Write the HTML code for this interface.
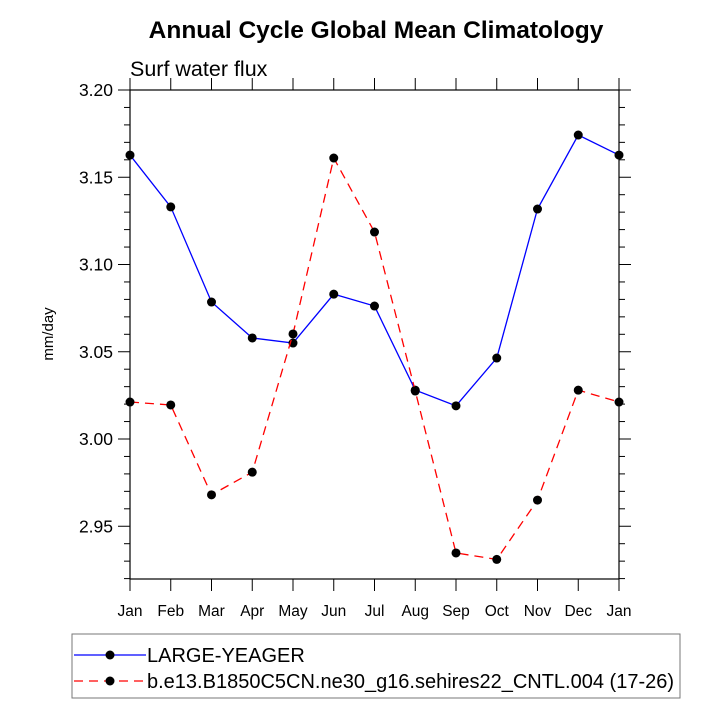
<!DOCTYPE html>
<html><head><meta charset="utf-8"><style>body{margin:0;background:#fff}svg{display:block;font-family:"Liberation Sans",Arial,sans-serif}</style></head>
<body>
<svg id="c" width="720" height="720">
<text x="376" y="38" text-anchor="middle" font-size="24.5" font-weight="bold">Annual Cycle Global Mean Climatology</text>
<text x="130" y="76" font-size="21.5">Surf water flux</text>
<text transform="translate(53,334) rotate(-90)" text-anchor="middle" font-size="15">mm/day</text>
<g id="ax"></g><g id="ser"></g>
<g>
<rect x="72" y="634" width="608" height="64" fill="none" stroke="#777" stroke-width="1"/>
<g><line x1="74" y1="655" x2="146" y2="655" stroke="#00f" stroke-width="1.3"/><circle cx="110" cy="655" r="4.5"/><text x="147" y="662" font-size="20">LARGE-YEAGER</text></g>
<g><line x1="74" y1="681" x2="146" y2="681" stroke="#f00" stroke-width="1.3" stroke-dasharray="9,6"/><circle cx="110" cy="681" r="4.5"/><text x="147" y="688" font-size="20">b.e13.B1850C5CN.ne30_g16.sehires22_CNTL.004 (17-26)</text></g>
</g>
</svg>
<script>
const months=["Jan","Feb","Mar","Apr","May","Jun","Jul","Aug","Sep","Oct","Nov","Dec","Jan"];
const largeYeager=[3.1627,3.133,3.0785,3.0579,3.055,3.083,3.0762,3.028,3.019,3.0464,3.1318,3.1742,3.1627];
const cntl=[3.0212,3.0195,2.968,2.981,3.0602,3.161,3.1186,3.0275,2.9347,2.931,2.965,3.028,3.0212];
const yTicks=["2.95","3.00","3.05","3.10","3.15","3.20"];
const X0=130,X1=619,Y0=90,Y1=579,ymax=3.20,ymin=3.20-(Y1-Y0)/1745;
const xs=i=>X0+(X1-X0)*i/(months.length-1);
const ys=v=>Y0+(ymax-v)/(ymax-ymin)*(Y1-Y0);
const NS="http://www.w3.org/2000/svg";
function mk(p,t,a){const e=document.createElementNS(NS,t);for(const k in a)e.setAttribute(k,a[k]);p.appendChild(e);return e;}
const ax=document.getElementById('ax');
const fr=mk(ax,'rect',{x:X0,y:Y0,width:X1-X0,height:Y1-Y0,fill:'none',stroke:'#000','stroke-width':1.2});


months.forEach((m,i)=>{const x=xs(i);
 mk(ax,'line',{x1:x,y1:Y1,x2:x,y2:Y1+12,stroke:'#000'});
 mk(ax,'line',{x1:x,y1:Y0,x2:x,y2:Y0-12,stroke:'#000'});
 const t=mk(ax,'text',{x:x,y:Y1+37,'text-anchor':'middle','font-size':15.5});t.textContent=m;
 
 });
for(let k=0;;k++){const v=3.20-k*0.01;if(v<ymin-1e-9)break;const y=ys(v);const maj=k%5==0;const L=maj?12:6;
 mk(ax,'line',{x1:X0,y1:y,x2:X0-L,y2:y,stroke:'#000'});
 mk(ax,'line',{x1:X1,y1:y,x2:X1+L,y2:y,stroke:'#000'});}
yTicks.forEach(s=>{const y=ys(parseFloat(s));const t=mk(ax,'text',{x:X0-17,y:y+6,'text-anchor':'end','font-size':17.5});t.textContent=s;
 
 });
const ser=document.getElementById('ser');
function draw(d,col,dash,name){const g=mk(ser,'g',{});
 
 
 const a={points:d.map((v,i)=>xs(i)+','+ys(v)).join(' '),fill:'none',stroke:col,'stroke-width':1.3};if(dash)a['stroke-dasharray']=dash;mk(g,'polyline',a);
 d.forEach((v,i)=>{const c=mk(g,'circle',{cx:xs(i),cy:ys(v),r:4.5});
 
 });}
draw(largeYeager,'#00f',null,'series-large-yeager');
draw(cntl,'#f00','9,6','series-cntl');
</script>
</body></html>
